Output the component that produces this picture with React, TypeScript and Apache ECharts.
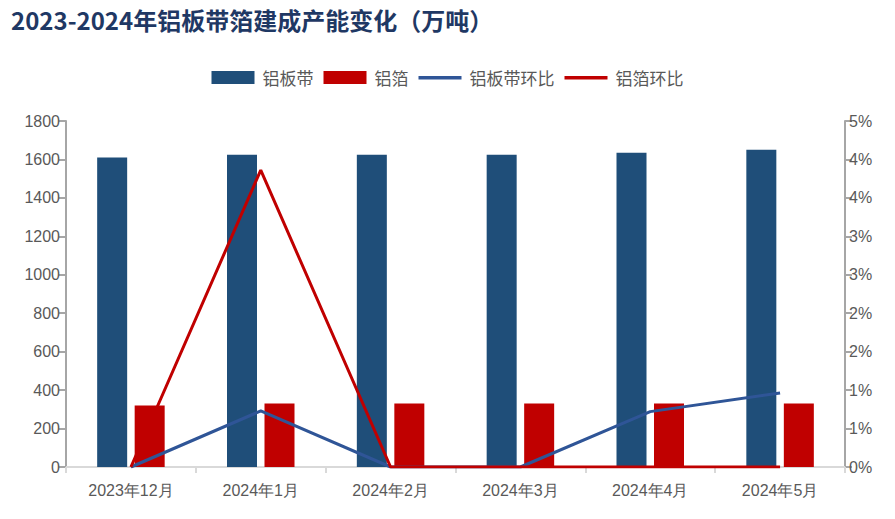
import React, { useEffect, useRef } from "react";
import * as echarts from "echarts";

const categories = ["2023年12月", "2024年1月", "2024年2月", "2024年3月", "2024年4月", "2024年5月"];
const bandCapacity = [1610, 1625, 1625, 1625, 1635, 1650];
const foilCapacity = [320, 330, 330, 330, 330, 330];
const bandMoM = [0, 0.81, 0, 0, 0.8, 1.07];
const foilMoM = [0, 4.29, 0, 0, 0, 0];

const lineIcon = "path://M0,0 L0,0 M0,5 L43,5 L43,8.5 L0,8.5 Z M0,13 L0,13";

export default function App() {
  const ref = useRef<HTMLDivElement>(null);
  useEffect(() => {
    const chart = echarts.init(ref.current!, null, { renderer: "svg" });
    const labelColor = "#595959";
    chart.setOption({
      animation: false,
      backgroundColor: "#ffffff",
      title: {
        text: "2023-2024年铝板带箔建成产能变化（万吨）",
        left: 6,
        top: 2,
        textStyle: {
          fontFamily: "Noto Sans CJK SC",
          fontSize: 24,
          fontWeight: "bold",
          color: "#1f3864",
        },
      },
      legend: {
        left: "center",
        top: 64,
        itemWidth: 43,
        itemHeight: 13,
        itemGap: 10,
        textStyle: { fontFamily: "Noto Sans CJK SC", fontSize: 17, color: labelColor, padding: [0, 0, 0, 3] },
        data: [
          { name: "铝板带", icon: "rect" },
          { name: "铝箔", icon: "rect" },
          { name: "铝板带环比", icon: lineIcon },
          { name: "铝箔环比", icon: lineIcon },
        ],
      },
      grid: { left: 66, right: 50, top: 121, bottom: 52, containLabel: false },
      xAxis: {
        type: "category",
        data: categories,
        axisLine: { lineStyle: { color: "#d9d9d9", width: 2 } },
        axisTick: { show: true, length: 6, lineStyle: { color: "#d9d9d9", width: 2 } },
        axisLabel: { color: labelColor, fontSize: 16, fontFamily: "Liberation Sans", margin: 15 },
      },
      yAxis: [
        {
          type: "value",
          min: 0,
          max: 1800,
          interval: 200,
          axisLine: { show: true, lineStyle: { color: "#a6a6a6", width: 2 } },
          axisTick: { show: true, length: 7, lineStyle: { color: "#a6a6a6", width: 2 } },
          splitLine: { show: false },
          axisLabel: {
            color: labelColor,
            fontSize: 16,
            fontFamily: "Liberation Sans",
            margin: 6,
            formatter: (v: number) => String(v),
          },
        },
        {
          type: "value",
          min: 0,
          max: 5,
          interval: 5 / 9,
          position: "right",
          axisLine: { show: true, lineStyle: { color: "#a6a6a6", width: 2 } },
          axisTick: { show: true, length: 7, lineStyle: { color: "#a6a6a6", width: 2 } },
          splitLine: { show: false },
          axisLabel: {
            color: labelColor,
            fontSize: 16,
            fontFamily: "Liberation Sans",
            margin: 4,
            formatter: (v: number) => Math.round(v) + "%",
          },
        },
      ],
      series: [
        {
          name: "铝板带",
          type: "bar",
          data: bandCapacity,
          barWidth: 30,
          barGap: "25%",
          itemStyle: { color: "#1f4e79" },
        },
        {
          name: "铝箔",
          type: "bar",
          data: foilCapacity,
          barWidth: 30,
          barGap: "25%",
          itemStyle: { color: "#c00000" },
        },
        {
          name: "铝板带环比",
          type: "line",
          yAxisIndex: 1,
          data: bandMoM,
          symbol: "none",
          lineStyle: { color: "#2f5597", width: 3 },
          itemStyle: { color: "#2f5597" },
        },
        {
          name: "铝箔环比",
          type: "line",
          yAxisIndex: 1,
          data: foilMoM,
          symbol: "none",
          lineStyle: { color: "#c00000", width: 3 },
          itemStyle: { color: "#c00000" },
        },
      ],
    });
    return () => chart.dispose();
  }, []);
  return <div ref={ref} style={{ width: 895, height: 519, margin: -8 }} />;
}
